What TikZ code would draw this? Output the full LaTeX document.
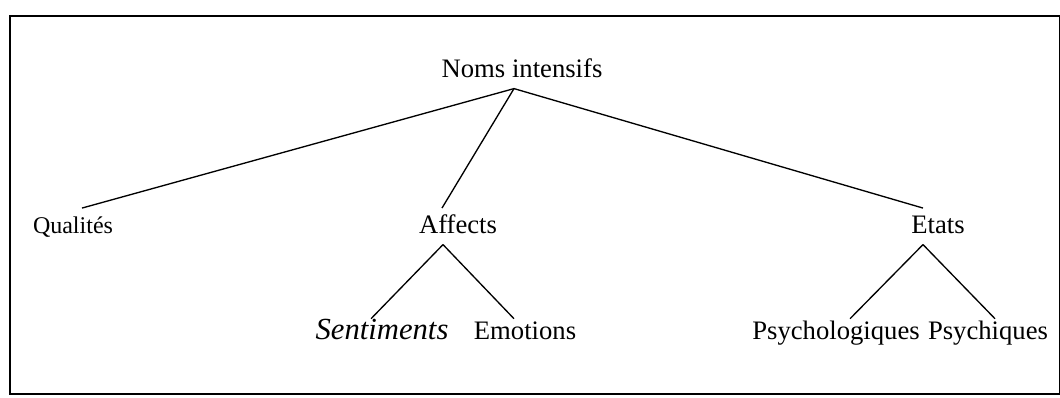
\documentclass[tikz,border=0pt]{standalone}
\usepackage{fontspec}
\setmainfont{Liberation Serif}
\usepackage{tikz}

\begin{document}
\begin{tikzpicture}[
   x=0.75pt, y=-0.75pt,
   word/.style={anchor=base, inner xsep=0pt, inner ysep=4.5pt, font=\fontsize{20}{24}\selectfont,
                text height=14pt, text depth=4pt},
   leaf/.style={word, inner ysep=1pt},
   branch/.style={draw=black, line width=1pt},
   frame/.style={draw=black, line width=1.5pt}
  ]

  \useasboundingbox (0, 0) rectangle (1060, 397);
  \draw[frame] (10, 16) rectangle (1060, 394);

  % top
  \node (noms) at (522, 77) [word] {Noms intensifs};

  % second row
  \node (qual) at (73, 233) [word, font=\fontsize{18}{22}\selectfont] {Qualités};
  \node (aff) at (458, 233) [word] {Affects};
  \node (etats) at (938, 233) [word] {Etats};

  % third row
  \node (sent) at (382, 339) [leaf, font=\fontsize{23}{28}\selectfont\itshape] {Sentiments};
  \node (emo) at (525, 339) [leaf] {Emotions};
  \node (psyl) at (836, 339) [leaf] {Psychologiques};
  \node (psyq) at (988, 339) [leaf] {Psychiques};

  \foreach \B/\sb/\E/\se in {noms/-8/qual/9, noms/-8/aff/-16, noms/-8/etats/-15,
                             aff/-15/sent/-11, aff/-15/emo/-11,
                             etats/-15/psyl/14, etats/-15/psyq/7} {
    \draw[branch] ([shift={(\sb, 0)}]\B.south) -- ([shift={(\se, 0)}]\E.north);
  }

\end{tikzpicture}
\end{document}
